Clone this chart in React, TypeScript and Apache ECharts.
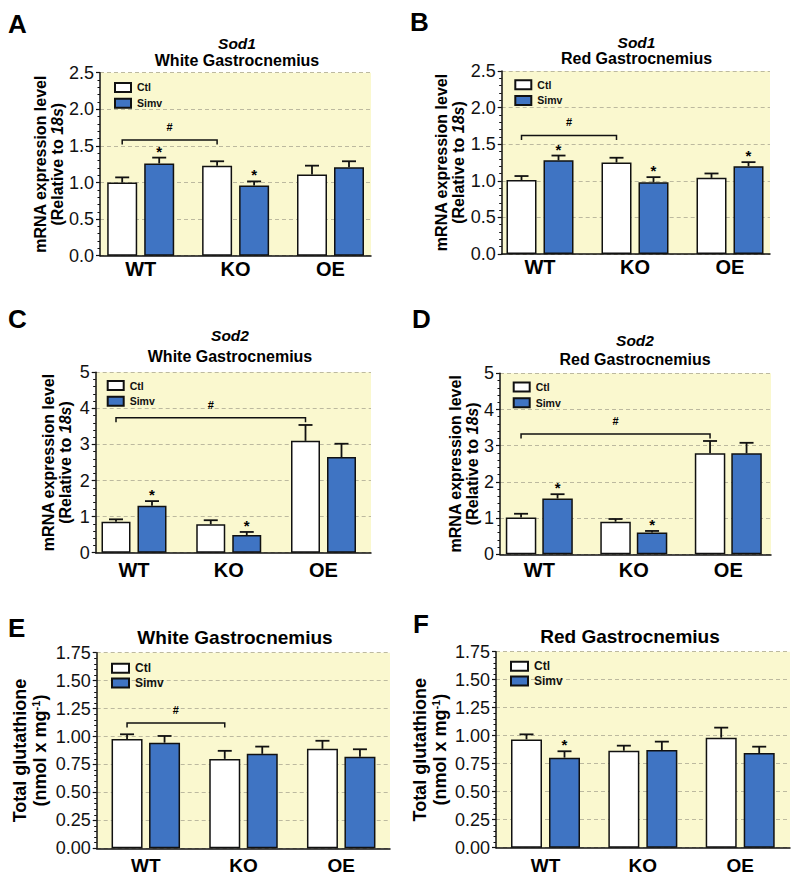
import React, { useEffect, useRef } from 'react';
import * as echarts from 'echarts';

const FONT = '"Liberation Sans", Arial, Helvetica, sans-serif';

// ---------- categories ----------
const groups = ['WT', 'KO', 'OE'];
const seriesNames = ['Ctl', 'Simv'];

// ---------- tick values ----------
const sodOneTicks = [0, 0.5, 1.0, 1.5, 2.0, 2.5];
const sodTwoTicks = [0, 1, 2, 3, 4, 5];
const gshTicks = [0, 0.25, 0.5, 0.75, 1.0, 1.25, 1.5, 1.75];

// ---------- A: Sod1, White Gastrocnemius ----------
const aCtl = [1.0, 1.23, 1.11];
const aCtlErr = [0.07, 0.06, 0.12];
const aSimv = [1.26, 0.96, 1.21];
const aSimvErr = [0.08, 0.055, 0.08];
const aSimvStar = [1, 1, 0];
const aBracket = [0, 1, 1.58]; // from group, to group, level

// ---------- B: Sod1, Red Gastrocnemius ----------
const bCtl = [1.01, 1.25, 1.04];
const bCtlErr = [0.055, 0.065, 0.06];
const bSimv = [1.28, 0.98, 1.2];
const bSimvErr = [0.065, 0.07, 0.055];
const bSimvStar = [1, 1, 1];
const bBracket = [0, 1, 1.62];

// ---------- C: Sod2, White Gastrocnemius ----------
const cCtl = [0.86, 0.79, 3.1];
const cCtlErr = [0.065, 0.11, 0.44];
const cSimv = [1.3, 0.49, 2.65];
const cSimvErr = [0.13, 0.085, 0.37];
const cSimvStar = [1, 1, 0];
const cBracket = [0, 2, 3.74];

// ---------- D: Sod2, Red Gastrocnemius ----------
const dCtl = [1.02, 0.9, 2.79];
const dCtlErr = [0.1, 0.075, 0.34];
const dSimv = [1.54, 0.6, 2.79];
const dSimvErr = [0.12, 0.045, 0.29];
const dSimvStar = [1, 1, 0];
const dBracket = [0, 2, 3.32];

// ---------- E: Total glutathione, White Gastrocnemius ----------
const eCtl = [0.978, 0.8, 0.89];
const eCtlErr = [0.042, 0.072, 0.072];
const eSimv = [0.945, 0.845, 0.82];
const eSimvErr = [0.06, 0.065, 0.066];
const eSimvStar = [0, 0, 0];
const eBracket = [0, 1, 1.12];

// ---------- F: Total glutathione, Red Gastrocnemius ----------
const fCtl = [0.967, 0.866, 0.982];
const fCtlErr = [0.045, 0.045, 0.09];
const fSimv = [0.804, 0.872, 0.845];
const fSimvErr = [0.057, 0.075, 0.057];
const fSimvStar = [1, 0, 0];
const fBracket: number[] = [];

// ---------- styles ----------
const YELLOW = '#FAF8CF';
const BLUE = '#3F74C3';
const INK = '#111';
const GRIDLINE = '#bcb99f';

type Panel = {
  letter: string;
  gene: string | null;
  tissue: string;
  kind: 'mrna' | 'gsh';
  ticks: number[];
  dec: number;
  ctl: number[];
  ctlErr: number[];
  simv: number[];
  simvErr: number[];
  star: number[];
  bracket: number[];
  // layout
  axisX: number;
  top: number;
  bottom: number;
  right: number;
  centers: number[];
  barW: number;
  gap: number;
  letterPos: [number, number];
  titleX: number;
  titleY: number;
  titleLH: number;
  nameGap: number;
  legendDX: number;
  legendDY: number;
  labelMargin: number;
};

const panels: Panel[] = [
  {
    letter: 'A', gene: 'Sod1', tissue: 'White Gastrocnemius', kind: 'mrna', ticks: sodOneTicks, dec: 1,
    ctl: aCtl, ctlErr: aCtlErr, simv: aSimv, simvErr: aSimvErr, star: aSimvStar, bracket: aBracket,
    axisX: 100, top: 72.7, bottom: 255.7, right: 371, centers: [140.7, 235.5, 330.5], barW: 30, gap: 7,
    letterPos: [8, 24], titleX: 237, titleY: 52.2, titleLH: 16.5, nameGap: 29.5, legendDX: 14, legendDY: 11, labelMargin: 3,
  },
  {
    letter: 'B', gene: 'Sod1', tissue: 'Red Gastrocnemius', kind: 'mrna', ticks: sodOneTicks, dec: 1,
    ctl: bCtl, ctlErr: bCtlErr, simv: bSimv, simvErr: bSimvErr, star: bSimvStar, bracket: bBracket,
    axisX: 501.7, top: 71, bottom: 254, right: 770, centers: [540, 635, 730], barW: 30, gap: 7,
    letterPos: [410, 21.7], titleX: 636.5, titleY: 50.4, titleLH: 16.5, nameGap: 30, legendDX: 12.6, legendDY: 10, labelMargin: 3,
  },
  {
    letter: 'C', gene: 'Sod2', tissue: 'White Gastrocnemius', kind: 'mrna', ticks: sodTwoTicks, dec: 0,
    ctl: cCtl, ctlErr: cCtlErr, simv: cSimv, simvErr: cSimvErr, star: cSimvStar, bracket: cBracket,
    axisX: 95.7, top: 372.3, bottom: 552.7, right: 371, centers: [134, 229, 323.5], barW: 29, gap: 7,
    letterPos: [8, 319], titleX: 230, titleY: 346, titleLH: 21, nameGap: 21.7, legendDX: 11, legendDY: 9.5, labelMargin: 7,
  },
  {
    letter: 'D', gene: 'Sod2', tissue: 'Red Gastrocnemius', kind: 'mrna', ticks: sodTwoTicks, dec: 0,
    ctl: dCtl, ctlErr: dCtlErr, simv: dSimv, simvErr: dSimvErr, star: dSimvStar, bracket: dBracket,
    axisX: 500, top: 373.3, bottom: 554.3, right: 771, centers: [539.3, 633.8, 728.3], barW: 30.5, gap: 6,
    letterPos: [412, 318.5], titleX: 635, titleY: 349.5, titleLH: 19, nameGap: 17.5, legendDX: 12.7, legendDY: 10, labelMargin: 6,
  },
  {
    letter: 'E', gene: null, tissue: 'White Gastrocnemius', kind: 'gsh', ticks: gshTicks, dec: 2,
    ctl: eCtl, ctlErr: eCtlErr, simv: eSimv, simvErr: eSimvErr, star: eSimvStar, bracket: eBracket,
    axisX: 96.7, top: 652.7, bottom: 848.3, right: 390, centers: [145.8, 243.5, 341.2], barW: 31, gap: 6.5,
    letterPos: [8, 627.5], titleX: 235, titleY: 637.7, titleLH: 20, nameGap: 46.5, legendDX: 14.3, legendDY: 12, labelMargin: 8,
  },
  {
    letter: 'F', gene: null, tissue: 'Red Gastrocnemius', kind: 'gsh', ticks: gshTicks, dec: 2,
    ctl: fCtl, ctlErr: fCtlErr, simv: fSimv, simvErr: fSimvErr, star: fSimvStar, bracket: fBracket,
    axisX: 496, top: 651.7, bottom: 847.7, right: 790, centers: [545.5, 642.5, 740.2], barW: 31, gap: 7,
    letterPos: [413, 623.5], titleX: 630, titleY: 636.7, titleLH: 20, nameGap: 46, legendDX: 14, legendDY: 11, labelMargin: 8,
  },
];

function buildOption() {
  const grid: any[] = [];
  const xAxis: any[] = [];
  const yAxis: any[] = [];
  const series: any[] = [];
  const legend: any[] = [];
  const graphic: any[] = [];

  panels.forEach((p, i) => {
    const big = p.kind === 'gsh';
    const g0 = 2 * i;
    const g1 = 2 * i + 1;
    const h = p.bottom - p.top;
    const pitch = (p.centers[2] - p.centers[0]) / 2;
    const bandLeft = p.centers[0] - pitch / 2;
    const ymin = p.ticks[0];
    const ymax = p.ticks[p.ticks.length - 1];
    const interval = p.ticks[1] - p.ticks[0];
    const nameSize = big ? 18 : 16;
    const nameLH = big ? 20 : 17;

    // visible frame grid
    grid.push({
      left: p.axisX, top: p.top, width: p.right - p.axisX, height: h,
      show: true, backgroundColor: YELLOW, borderWidth: 0,
    });
    // bar layout grid (same vertical extent)
    grid.push({ left: bandLeft, top: p.top, width: pitch * 3, height: h });

    xAxis.push({
      gridIndex: g0, type: 'category', data: groups,
      axisLine: { lineStyle: { color: INK, width: 1.5 } },
      axisTick: { show: false }, axisLabel: { show: false }, splitLine: { show: false },
    });
    xAxis.push({
      gridIndex: g1, type: 'category', data: groups,
      axisLine: { show: false }, axisTick: { show: false }, splitLine: { show: false },
      axisLabel: {
        fontFamily: FONT, fontWeight: 'bold', fontSize: big ? 19 : 20, color: '#000', margin: p.labelMargin,
      },
    });

    const yName = big
      ? '{b|Total glutathione}\n{b|(nmol x mg}{sup|-1}{b|)}'
      : '{b|mRNA expression level}\n{b|(Relative to }{bi|18s}{b|)}';

    yAxis.push({
      gridIndex: g0, type: 'value', min: ymin, max: ymax, interval,
      axisLine: { show: true, lineStyle: { color: INK, width: 1.5 } },
      axisTick: { show: true, length: 4, lineStyle: { color: INK, width: 1.2 } },
      minorTick: { show: true, splitNumber: 5, length: 2.5, lineStyle: { color: INK, width: 1 } },
      axisLabel: {
        fontFamily: FONT, fontSize: 18, color: '#111', margin: 6,
        formatter: (v: number) => v.toFixed(p.dec),
      },
      splitLine: { show: true, lineStyle: { type: [4, 3], color: GRIDLINE, width: 1 } },
      name: yName, nameLocation: 'middle', nameRotate: 90, nameGap: p.nameGap,
      nameTextStyle: {
        rich: {
          b: { fontFamily: FONT, fontWeight: 'bold', fontSize: nameSize, lineHeight: nameLH, color: '#000' },
          bi: { fontFamily: FONT, fontWeight: 'bold', fontStyle: 'italic', fontSize: nameSize, lineHeight: nameLH, color: '#000' },
          sup: { fontFamily: FONT, fontWeight: 'bold', fontSize: 11, lineHeight: nameLH, verticalAlign: 'top', color: '#000' },
        },
      },
    });
    yAxis.push({ gridIndex: g1, type: 'value', min: ymin, max: ymax, interval, show: false });

    const off = (p.barW + p.gap) / 2;

    series.push({
      name: seriesNames[0], type: 'bar', xAxisIndex: g1, yAxisIndex: g1,
      data: p.ctl, barWidth: p.barW, barGap: `${(p.gap / p.barW) * 100}%`,
      itemStyle: { color: '#ffffff', borderColor: INK, borderWidth: 1.5 },
    });
    series.push({
      name: seriesNames[1], type: 'bar', xAxisIndex: g1, yAxisIndex: g1,
      data: p.simv, barWidth: p.barW, barGap: `${(p.gap / p.barW) * 100}%`,
      itemStyle: { color: BLUE, borderColor: INK, borderWidth: 1.5 },
    });

    // error bars + significance stars
    const errData: number[][] = [];
    groups.forEach((_, k) => {
      errData.push([k, 0, p.ctl[k], p.ctlErr[k], 0]);
      errData.push([k, 1, p.simv[k], p.simvErr[k], p.star[k]]);
    });
    series.push({
      type: 'custom', xAxisIndex: g1, yAxisIndex: g1, data: errData,
      encode: { x: 0, y: 2 }, clip: false, z: 3,
      renderItem: (params: any, api: any) => {
        const cat = api.value(0);
        const side = api.value(1);
        const v = api.value(2);
        const e = api.value(3);
        const star = api.value(4);
        const base = api.coord([cat, v]);
        const top = api.coord([cat, v + e]);
        const x = base[0] + (side === 0 ? -off : off);
        const capW = 14;
        const children: any[] = [
          { type: 'line', shape: { x1: x, y1: base[1], x2: x, y2: top[1] }, style: { stroke: INK, lineWidth: 1.8 } },
          { type: 'line', shape: { x1: x - capW / 2, y1: top[1], x2: x + capW / 2, y2: top[1] }, style: { stroke: INK, lineWidth: 1.8 } },
        ];
        if (star) {
          children.push({
            type: 'text',
            style: {
              text: '*', x, y: top[1] - 6.5, align: 'center', verticalAlign: 'middle',
              fontFamily: FONT, fontWeight: 'bold', fontSize: 15, fill: '#000',
            },
          });
        }
        return { type: 'group', children };
      },
    });

    // # bracket between control bars
    if (p.bracket.length) {
      series.push({
        type: 'custom', xAxisIndex: g1, yAxisIndex: g1, data: [p.bracket],
        encode: { x: 0, y: 2 }, clip: false, z: 3,
        renderItem: (params: any, api: any) => {
          const a = api.coord([api.value(0), api.value(2)]);
          const b = api.coord([api.value(1), api.value(2)]);
          const xa = a[0] - off;
          const xb = b[0] - off;
          const yy = a[1];
          return {
            type: 'group',
            children: [
              {
                type: 'polyline',
                shape: { points: [[xa, yy + 4.5], [xa, yy], [xb, yy], [xb, yy + 4.5]] },
                style: { stroke: INK, lineWidth: 1.5, fill: null },
              },
              {
                type: 'text',
                style: {
                  text: '#', x: (xa + xb) / 2, y: yy - 13, align: 'center', verticalAlign: 'middle',
                  fontFamily: FONT, fontWeight: 'bold', fontSize: 11, fill: '#000',
                },
              },
            ],
          };
        },
      });
    }

    const legFont = big ? 12 : 10.5;
    const itemH = 9;
    const rowH = big ? 16.7 : 17.2;
    const textH = legFont + 2;
    legend.push({
      orient: 'vertical', left: p.axisX + p.legendDX, top: p.top + p.legendDY - Math.max(0, (textH - itemH) / 2),
      padding: 0, itemWidth: big ? 17 : 16, itemHeight: itemH,
      itemGap: rowH - Math.max(textH, itemH), icon: 'rect', selectedMode: false,
      data: seriesNames,
      textStyle: { fontFamily: FONT, fontWeight: 'bold', fontSize: legFont, color: '#111', padding: [0, 0, 0, 1] },
    });

    // panel letter
    graphic.push({
      type: 'text', x: p.letterPos[0], y: p.letterPos[1],
      style: { text: p.letter, fontFamily: FONT, fontWeight: 'bold', fontSize: 26, fill: '#000', align: 'left', verticalAlign: 'middle' },
    });
    // title (one text block; gene in italics on the first line)
    const titleText = p.gene ? `{i|${p.gene}}\n{b|${p.tissue}}` : `{b|${p.tissue}}`;
    const tSize = big ? 19 : 16;
    graphic.push({
      type: 'text', x: p.titleX, y: p.titleY,
      style: {
        text: titleText, align: 'center', verticalAlign: 'middle', fill: '#000',
        fontFamily: FONT, fontWeight: 'bold', fontSize: tSize,
        rich: {
          i: { fontFamily: FONT, fontWeight: 'bold', fontStyle: 'italic', fontSize: 15.5, lineHeight: p.titleLH, align: 'center' },
          b: { fontFamily: FONT, fontWeight: 'bold', fontSize: tSize, lineHeight: p.titleLH, align: 'center' },
        },
      },
    });
  });

  return {
    animation: false,
    backgroundColor: '#ffffff',
    grid, xAxis, yAxis, series, legend, graphic,
  };
}

export default function App() {
  const ref = useRef<HTMLDivElement>(null);
  useEffect(() => {
    document.body.style.margin = '0';
    const chart = echarts.init(ref.current as HTMLDivElement, undefined, { renderer: 'svg' });
    chart.setOption(buildOption() as any);
    return () => chart.dispose();
  }, []);
  return <div ref={ref} style={{ position: 'absolute', left: 0, top: 0, width: 800, height: 884 }} />;
}
